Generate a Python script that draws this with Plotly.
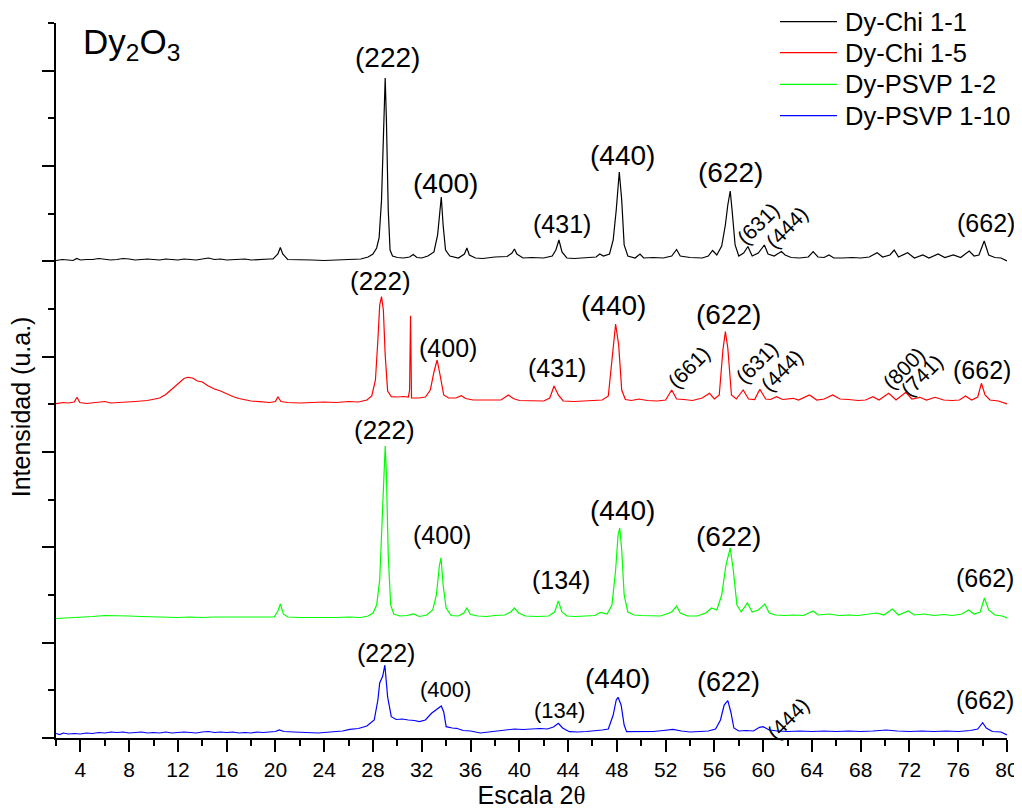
import plotly.graph_objects as go

# ---------------- data (2theta in degrees, intensity in a.u., stacked as plotted) ----------------
series_names = ["Dy-Chi 1-1", "Dy-Chi 1-5", "Dy-PSVP 1-2", "Dy-PSVP 1-10"]
series_colors = ["#000000", "#ff0000", "#00ff00", "#0000ff"]

chi11_x = [2.0, 2.5, 3.0, 3.4, 3.7, 4.0, 4.5, 5.0, 5.5, 6.0, 6.5, 7.0, 7.5, 8.0, 8.5, 9.0, 9.5, 10.0, 10.5,
           11.0, 11.5, 12.0, 12.5, 13.0, 13.5, 14.0, 14.5, 15.0, 15.5, 16.0, 16.5, 17.0, 17.5, 18.0, 18.5,
           19.0, 19.5, 19.8, 20.2, 20.4, 20.6, 21.0, 22.0, 23.0, 24.0, 25.0, 26.0, 27.0, 27.6, 28.0, 28.3,
           28.5, 28.7, 28.85, 29.0, 29.1, 29.25, 29.4, 29.6, 30.0, 30.5, 31.0, 31.3, 31.6, 32.0, 32.5, 33.0,
           33.3, 33.5, 33.6, 33.75, 33.95, 34.3, 35.0, 35.5, 35.7, 35.9, 36.4, 37.0, 38.0, 39.0, 39.4, 39.6,
           39.8, 40.3, 41.0, 42.0, 42.7, 43.0, 43.25, 43.5, 43.9, 44.5, 45.5, 46.3, 46.6, 46.9, 47.4, 47.7,
           47.95, 48.2, 48.4, 48.6, 48.9, 49.5, 49.9, 50.2, 51.0, 51.8, 52.5, 52.9, 53.2, 54.0, 55.0, 55.5,
           55.85, 56.2, 56.6, 56.9, 57.1, 57.3, 57.45, 57.7, 58.0, 58.4, 58.75, 59.1, 59.6, 60.1, 60.4, 60.9,
           61.5, 61.8, 62.3, 63.0, 63.7, 64.1, 64.5, 65.0, 65.4, 65.8, 66.5, 67.3, 68.0, 68.7, 69.35, 69.8,
           70.4, 70.75, 71.1, 71.85, 72.4, 73.1, 73.6, 74.35, 74.9, 75.6, 76.2, 76.9, 77.3, 77.7, 78.13,
           78.5, 79.0, 79.5, 80.0]
chi11_y = [477.5, 478.5, 478, 477.5, 479.5, 478, 478.5, 478.5, 479.5, 479, 478, 478.5, 479.5, 479, 478,
           478.5, 479, 478.5, 478, 479, 478.5, 478, 479, 478.5, 478, 479, 480, 478.5, 479, 478, 478.5, 478.5,
           479, 478, 478.5, 478.5, 479, 479, 484, 490.5, 484, 478.5, 478.5, 478, 477.5, 478, 478.5, 479, 481,
           484, 490, 500, 538, 608, 660, 618, 528, 488, 482, 480.5, 480, 481, 483.5, 480.5, 480, 482, 486,
           503, 533, 541, 513, 488, 482, 480, 484, 490, 483, 480, 479.5, 481, 481.5, 485, 489, 484, 480,
           480.5, 480, 482, 488, 498, 486, 480, 479.5, 480, 481, 484, 482, 484, 498, 528, 566, 538, 493, 482,
           480, 484, 480, 480.5, 480, 482, 488.5, 482, 480.5, 480, 482, 487.5, 483, 492, 513, 533, 547, 528,
           493, 482, 485, 491.5, 482, 485, 493, 484, 482, 486.5, 483, 480.5, 480, 481, 486.3, 481, 480.5,
           483, 480, 480, 480.5, 480, 481, 485.3, 481, 483, 488, 481, 485.3, 480, 483, 480, 484, 480.5, 483,
           480.5, 487, 482, 483, 497, 483, 480.5, 480, 477]

chi15_x = [2.0, 2.6, 3.0, 3.5, 3.72, 3.95, 4.5, 5.5, 6.0, 6.5, 7.5, 8.5, 9.5, 10.5, 11.0, 11.5, 12.0, 12.5,
           12.8, 13.2, 13.6, 14.0, 14.5, 15.0, 15.5, 16.0, 16.5, 17.0, 17.5, 18.0, 18.7, 19.5, 20.0, 20.2,
           20.45, 21.0, 22.0, 23.0, 24.0, 25.0, 26.0, 26.8, 27.5, 27.9, 28.2, 28.4, 28.55, 28.7, 28.85, 29.0,
           29.2, 29.5, 30.0, 30.5, 30.9, 31.0, 31.08, 31.16, 31.3, 31.8, 32.3, 32.7, 33.0, 33.26, 33.5, 33.8,
           34.2, 34.8, 35.25, 35.6, 36.2, 37.0, 37.8, 38.5, 39.1, 39.5, 40.0, 41.0, 42.0, 42.5, 42.85, 43.2,
           43.6, 44.5, 45.5, 46.3, 46.8, 47.3, 47.6, 47.9, 48.15, 48.4, 48.7, 49.2, 49.8, 50.5, 51.3, 52.0,
           52.5, 52.9, 53.5, 54.2, 55.0, 55.6, 56.0, 56.4, 56.7, 56.9, 57.1, 57.4, 57.8, 58.36, 58.8, 59.3,
           59.73, 60.2, 60.6, 61.1, 61.6, 62.46, 62.9, 63.8, 64.4, 65.0, 65.7, 66.3, 67.0, 67.8, 68.4, 69.0,
           69.5, 70.3, 70.9, 71.7, 72.2, 72.85, 73.4, 74.1, 74.8, 75.5, 76.1, 76.6, 77.1, 77.6, 77.9, 78.2,
           78.6, 79.3, 80.0]
chi15_y = [334.3, 335.5, 335, 336, 340.7, 335.5, 334.5, 335.5, 336.5, 335, 335.5, 336.5, 337.5, 340, 343.5,
           349, 355, 359.5, 360.7, 360, 357, 356, 352, 349, 347, 344, 341.5, 339.5, 338, 337, 336.3, 335.5,
           336.5, 341.3, 336.5, 335.5, 335, 335.5, 336, 335.5, 336.5, 336, 338, 342, 358, 398, 433, 441.3,
           428, 383, 347, 341.3, 341, 341.5, 341, 348, 422.3, 340, 340, 340, 341, 348, 366, 378, 363, 343,
           340, 340, 342.3, 339.5, 338, 338, 338.5, 338, 343, 339.5, 337.5, 337, 337, 340, 352, 343, 337,
           336.5, 337, 337.5, 338, 342, 378, 414, 393, 348, 338.5, 337.5, 339, 337.5, 337, 338, 348, 339,
           338.5, 337.5, 340, 344.7, 339, 343, 388, 406.3, 390, 343, 339, 348, 339, 338.5, 348.7, 339, 338.5,
           341.3, 338.5, 339.7, 338, 343, 338, 339, 343, 339, 338.5, 337.5, 338, 341.3, 338, 344.7, 338,
           345.7, 339, 340.7, 338, 340.7, 338, 337.5, 338, 342, 338, 341, 354.7, 343, 338, 337, 334]

psvp12_x = [2.0, 3.0, 4.0, 5.0, 6.0, 7.0, 8.0, 9.0, 10.0, 11.0, 12.0, 13.0, 14.0, 15.0, 16.0, 17.0, 18.0,
            19.0, 19.9, 20.2, 20.4, 20.65, 21.0, 22.0, 23.0, 24.0, 25.0, 26.0, 27.0, 27.6, 28.0, 28.3, 28.55,
            28.75, 28.9, 29.0, 29.1, 29.25, 29.45, 29.7, 30.2, 30.8, 31.3, 31.8, 32.4, 32.9, 33.2, 33.45,
            33.58, 33.75, 34.0, 34.4, 35.0, 35.45, 35.7, 36.0, 36.6, 37.3, 38.0, 38.8, 39.3, 39.6, 39.95,
            40.5, 41.5, 42.4, 42.9, 43.2, 43.5, 43.9, 44.6, 45.3, 46.2, 46.66, 47.2, 47.6, 47.9, 48.1, 48.24,
            48.4, 48.6, 48.9, 49.4, 50.0, 50.8, 51.6, 52.5, 52.9, 53.2, 53.8, 54.6, 55.3, 55.77, 56.2, 56.6,
            56.95, 57.3, 57.55, 57.85, 58.2, 58.7, 59.1, 59.6, 60.14, 60.5, 61.0, 61.8, 62.5, 63.3, 64.1,
            64.5, 65.4, 66.2, 67.0, 67.8, 68.5, 69.3, 69.9, 70.6, 71.1, 71.9, 72.4, 73.2, 74.0, 74.8, 75.5,
            76.3, 76.85, 77.3, 77.8, 78.15, 78.5, 79.0, 79.6, 80.0]
psvp12_y = [119.5, 120, 120.5, 121.5, 122.5, 122.5, 122, 121.5, 121, 121, 120.5, 121, 120.5, 121, 121, 120.5,
            120.5, 120.5, 121, 127, 134, 124, 121, 120.5, 120.5, 120, 120.5, 121, 120.5, 122, 125, 133, 158,
            218, 268, 292, 263, 183, 133, 124, 122, 122.5, 124, 121.5, 123, 128, 143, 173, 180, 153, 130,
            122.5, 122, 125, 130, 123.5, 122, 121.5, 122.5, 123, 126, 130, 125, 122, 121.5, 122, 126, 137,
            126, 122, 121.5, 122, 122.5, 125.5, 124, 133, 168, 203, 210, 188, 143, 126, 123, 122.5, 122, 122,
            126, 132, 125, 122, 122, 125, 130, 128, 143, 173, 190, 168, 133, 126, 135, 126, 128, 134, 125,
            123, 122.5, 123, 122.5, 127, 123, 124, 122.5, 123, 122.5, 124, 125, 123, 129, 123, 127, 123, 124,
            122.5, 123.5, 122.5, 124, 128, 124, 126, 140, 128, 123, 122, 120]

psvp110_x = [2.0, 2.3, 2.6, 3.0, 3.5, 4.0, 4.5, 5.0, 5.5, 6.0, 6.5, 7.0, 7.5, 8.0, 8.5, 9.0, 9.5, 10.0, 10.5,
             11.0, 11.5, 12.0, 12.5, 13.0, 13.5, 14.0, 14.5, 15.0, 15.5, 16.0, 16.5, 17.0, 17.5, 18.0, 18.5,
             19.0, 19.5, 20.0, 20.3, 20.7, 21.5, 22.5, 23.5, 24.5, 25.5, 26.1, 26.8, 27.5, 28.1, 28.4, 28.55,
             28.8, 28.97, 29.2, 29.5, 29.9, 30.4, 30.9, 31.4, 31.8, 32.3, 32.8, 33.2, 33.6, 33.8, 34.0, 34.5,
             34.85, 35.4, 36.0, 36.8, 37.5, 38.2, 38.95, 39.6, 40.3, 41.0, 41.7, 42.3, 42.8, 43.2, 43.55, 44.1,
             44.8, 45.5, 46.2, 46.8, 47.3, 47.7, 47.95, 48.1, 48.35, 48.6, 48.8, 49.5, 50.3, 51.0, 51.8, 52.6,
             53.3, 54.0, 54.8, 55.5, 56.1, 56.5, 56.8, 57.1, 57.35, 57.6, 58.0, 58.6, 59.2, 59.7, 60.0, 60.5,
             61.2, 62.0, 63.0, 64.0, 65.0, 66.0, 67.0, 68.0, 69.0, 70.1, 71.0, 72.0, 73.0, 74.0, 75.0, 76.0,
             77.0, 77.6, 78.0, 78.3, 78.8, 79.5, 80.0]
psvp110_y = [4.5, 3.5, 5, 4, 4.5, 4, 5, 4.5, 5.5, 5, 6, 5.5, 6, 5, 5.5, 6, 5, 5.5, 5, 6, 5, 5.5, 6, 5.5, 5, 6,
             6.5, 5.5, 6, 5.5, 6, 5, 5.5, 5, 6, 5.5, 6, 6.5, 8, 6.5, 6, 5.5, 5, 6, 7, 8.7, 9.5, 12, 18, 38,
             55, 62, 73, 41, 21.3, 18.5, 19, 18, 17.5, 16.3, 18, 24.7, 28, 32, 26, 11.3, 10, 9.7, 7.5, 7, 5,
             6, 7.5, 8.7, 9, 8.5, 9, 9.5, 9, 11, 14.7, 10, 6.3, 6, 6.5, 7, 8, 9, 23, 38, 40.7, 33, 13, 6.3,
             6.5, 7, 6.5, 7.5, 8.7, 7, 6, 6.5, 7, 9, 18, 33, 37.3, 26, 10, 7, 7.5, 7, 10.7, 11.3, 8, 7, 6.5,
             7, 6.5, 7, 6.5, 7, 6.5, 7, 8, 7, 6.5, 7, 6.5, 7, 6.5, 7.5, 9, 15.3, 10, 6.5, 6, 3]

# Miller-index labels: text, 2theta position, intensity position, font size, angle
label_text = ["(222)", "(400)", "(431)", "(440)", "(622)", "(631)", "(444)", "(662)",
              "(222)", "(400)", "(431)", "(440)", "(622)", "(661)", "(631)", "(444)", "(800)", "(741)", "(662)",
              "(222)", "(400)", "(134)", "(440)", "(622)", "(662)",
              "(222)", "(400)", "(134)", "(440)", "(622)", "(444)", "(662)"]
label_x = [29.21, 33.97, 43.48, 48.45, 57.31, 59.56, 61.92, 78.27,
           28.64, 34.11, 43.12, 47.75, 57.18, 53.85, 59.46, 61.51, 71.48, 72.99, 77.91,
           28.96, 33.64, 43.46, 48.49, 57.18, 78.18,
           29.10, 33.91, 43.28, 48.04, 57.13, 62.02, 78.18]
label_y = [681, 555, 514, 583, 566, 515, 511, 515,
           457, 390, 370, 433, 424, 371, 376, 368, 370, 363, 368,
           308, 203, 158, 228, 202, 160,
           85, 49, 28, 60, 56, 20, 38]
label_size = [28, 28, 25, 28, 28, 21, 21, 25,
              26, 25, 25, 28, 28, 21, 21, 21, 21, 21, 25,
              26, 25, 25, 28, 28, 25,
              25, 22, 22, 28, 27, 21, 25]
label_angle = [0, 0, 0, 0, 0, -45, -45, 0,
               0, 0, 0, 0, 0, -45, -45, -45, -45, -45, 0,
               0, 0, 0, 0, 0, 0,
               0, 0, 0, 0, 0, -45, 0]

FONT = "Arial, 'Liberation Sans', sans-serif"

fig = go.Figure()
for name, color, xs, ys in zip(series_names, series_colors,
                               [chi11_x, chi15_x, psvp12_x, psvp110_x],
                               [chi11_y, chi15_y, psvp12_y, psvp110_y]):
    fig.add_trace(go.Scatter(x=xs, y=ys, mode="lines", name=name, showlegend=False,
                             line=dict(color=color, width=1.2)))

for t, x, y, s, a in zip(label_text, label_x, label_y, label_size, label_angle):
    fig.add_annotation(x=x, y=y, xref="x", yref="y", text=t, showarrow=False,
                       xanchor="center", yanchor="middle", textangle=a,
                       font=dict(family=FONT, size=s, color="black"))

# legend drawn as line samples + labels in the top-right corner
leg_x0, leg_x1, leg_tx = 0.7613, 0.8212, 0.8275
leg_y = [1.0018, 0.9585, 0.9143, 0.8704]
for name, color, yy in zip(series_names, series_colors, leg_y):
    fig.add_shape(type="line", xref="paper", yref="paper", x0=leg_x0, x1=leg_x1, y0=yy, y1=yy,
                  line=dict(color=color, width=1.2))
    fig.add_annotation(x=leg_tx, y=yy, xref="paper", yref="paper", xanchor="left", yanchor="middle",
                       text=name, showarrow=False, font=dict(family=FONT, size=25.5, color="black"))

fig.add_annotation(x=0.0265, y=1.004, xref="paper", yref="paper", xanchor="left", yanchor="top",
                   text="Dy<sub>2</sub>O<sub>3</sub>", showarrow=False,
                   font=dict(family=FONT, size=35, color="black"))
fig.add_annotation(x=-0.0365, y=0.463, xref="paper", yref="paper", xanchor="center", yanchor="middle",
                   text="Intensidad (u.a.)", textangle=-90, showarrow=False,
                   font=dict(family=FONT, size=25, color="black"))

# the page body adds an 8px offset, so the figure is 8px smaller than the window
fig.update_layout(
    width=1014, height=803,
    margin=dict(l=48, r=15, t=15, b=73),
    paper_bgcolor="white", plot_bgcolor="white",
    font=dict(family=FONT, color="black"),
    showlegend=False,
)
fig.update_xaxes(range=[2, 80], tick0=0, dtick=4, ticks="outside", ticklen=12, tickwidth=1.5,
                 tickcolor="black", showline=True, linewidth=2, linecolor="black", showgrid=False,
                 zeroline=False, tickfont=dict(family=FONT, size=21, color="black"), automargin=False,
                 minor=dict(dtick=2, tick0=0, ticks="outside", ticklen=6, tickwidth=1.5, tickcolor="black"),
                 title=dict(text="Escala 2<span style=\"font-family:'Times New Roman','Liberation Serif',serif\">θ</span>",
                            font=dict(family=FONT, size=25, color="black"), standoff=6))
fig.update_yaxes(range=[0, 715], tick0=0, dtick=95.333, ticks="outside", ticklen=12, tickwidth=1.5,
                 tickcolor="black", showline=True, linewidth=2, linecolor="black", showgrid=False,
                 zeroline=False, showticklabels=False, automargin=False,
                 minor=dict(dtick=47.667, tick0=0, ticks="outside", ticklen=6, tickwidth=1.5, tickcolor="black"))

fig.write_html("out.html")
